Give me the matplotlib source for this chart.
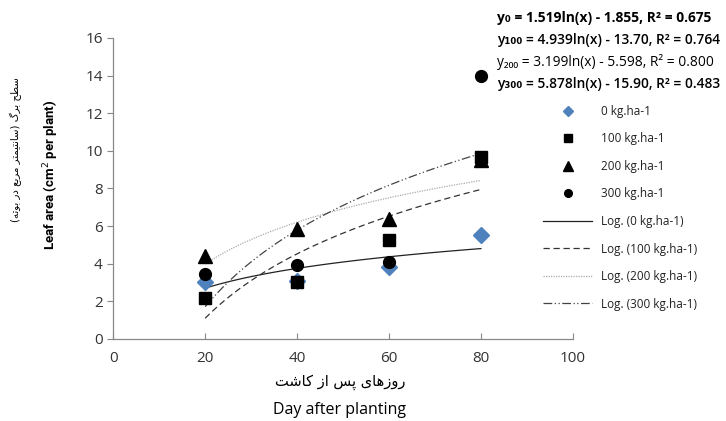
import numpy as np
import matplotlib
matplotlib.use("Agg")
import matplotlib.pyplot as plt

plt.rcParams['font.family'] = ['Open Sans', 'DejaVu Sans']

# data
days = [20, 40, 60, 80]
leaf_0 = [3.05, 3.1, 3.8, 5.5]
leaf_100 = [2.15, 3.05, 5.25, 9.65]
leaf_200 = [4.4, 5.85, 6.35, 9.5]
leaf_300 = [3.45, 3.95, 4.1, 14.0]

# log trendline coefficients  y = a*ln(x) + b
fit_a = [1.519, 4.939, 3.199, 5.878]
fit_b = [-1.855, -13.70, -5.598, -15.90]
fit_r2 = [0.675, 0.764, 0.800, 0.483]
levels = ['0', '100', '200', '300']

xticks = [0, 20, 40, 60, 80, 100]
yticks = [0, 2, 4, 6, 8, 10, 12, 14, 16]

# persian labels, pre-shaped (presentation forms, visual order)
fa_x = ('\uFE96\uFEB7\uFE8E\uFB90 \uFEAF\uFE8D \uFEB2\uFB58 '
        '\uFBFC\uFE8E\uFEEB\uFEAF\uFEED\uFEAD')
fa_y = ('(\uFEEA\uFE97\uFEEE\uFE91 \uFEAD\uFEA9 \uFECA\uFE91\uFEAE\uFEE3 '
        '\uFEAE\uFE98\uFEE4\uFBFF\uFE98\uFEE7\uFE8E\uFEB3) '
        '\uFB92\uFEAE\uFE91 \uFEA2\uFEC4\uFEB3')

fig = plt.figure(figsize=(7.26, 4.21), dpi=100)
ax = fig.add_axes([0.156, 0.195, 0.633, 0.715])

markers = [dict(marker='D', color='#4F81BD', ms=8.5),
           dict(marker='s', color='black', ms=8),
           dict(marker='^', color='black', ms=10.5),
           dict(marker='o', color='black', ms=8.5)]
series = [leaf_0, leaf_100, leaf_200, leaf_300]
for vals, m, lev in zip(series, markers, levels):
    ax.plot(days, vals, ls='none', marker=m['marker'], color=m['color'],
            ms=m['ms'], mec=m['color'], zorder=3, label=lev + ' kg.ha-1')

styles = [dict(ls='-', color='#222222', lw=0.9),
          dict(ls=(0, (5, 3)), color='#333333', lw=0.9),
          dict(ls=(0, (1, 1)), color='#aaaaaa', lw=0.9),
          dict(ls=(0, (7, 2, 1, 2, 1, 2)), color='#444444', lw=0.9)]
xx = np.linspace(days[0], days[-1], 100)
for a, b, st, lev in zip(fit_a, fit_b, styles, levels):
    ax.plot(xx, a * np.log(xx) + b, zorder=2, label='Log. (' + lev + ' kg.ha-1)', **st)

ax.set_xlim(0, 100)
ax.set_ylim(0, 16)
ax.set_xticks(xticks)
ax.set_yticks(yticks)
for s in ['top', 'right']:
    ax.spines[s].set_visible(False)
for s in ['left', 'bottom']:
    ax.spines[s].set_color('#888888')
    ax.spines[s].set_linewidth(0.9)
ax.tick_params(axis='x', direction='in', length=4, color='#888888', labelsize=11,
               pad=9, labelcolor='#333333')
ax.tick_params(axis='y', direction='out', length=4, color='#888888', labelsize=11,
               labelcolor='#333333')

fig.text(0.468, 0.091, fa_x, ha='center', va='center', fontsize=10.5,
         family=['DejaVu Sans'])
fig.text(0.468, 0.027, 'Day after planting', ha='center', va='center', fontsize=11.5)
fig.text(0.022, 0.644, fa_y, ha='center', va='center', rotation=90, fontsize=7.3,
         family=['DejaVu Sans'])
fig.text(0.071, 0.584, 'Leaf area (cm$^2$ per plant)', ha='center', va='center',
         rotation=90, fontsize=9.5, fontweight='bold',
         family=['Roboto', 'DejaVu Sans'])

subs = ['\u2080', '\u2081\u2080\u2080', '\u2082\u2080\u2080', '\u2083\u2080\u2080']
eq_y = [0.957, 0.905, 0.853, 0.801]
weights = ['bold', 'semibold', 'normal', 'semibold']
for a, b, r2, sb, yy, w in zip(fit_a, fit_b, fit_r2, subs, eq_y, weights):
    bs = ('%.3f' % abs(b)) if abs(b) < 10 else ('%.2f' % abs(b))
    txt = 'y%s = %.3fln(x) - %s, R\u00b2 = %.3f' % (sb, a, bs, r2)
    fig.text(0.685, yy, txt, ha='left', va='center', fontsize=9.9, fontweight=w,
             family=['Open Sans', 'DejaVu Sans'])

h, l = ax.get_legend_handles_labels()
fig.legend(h, l, loc='upper left', bbox_to_anchor=(0.733, 0.776), frameon=False,
           fontsize=8.5, handlelength=4.2, labelspacing=1.23, markerscale=0.65,
           handletextpad=0.75, labelcolor='#222222')

fig.savefig('out.png', dpi=100)
